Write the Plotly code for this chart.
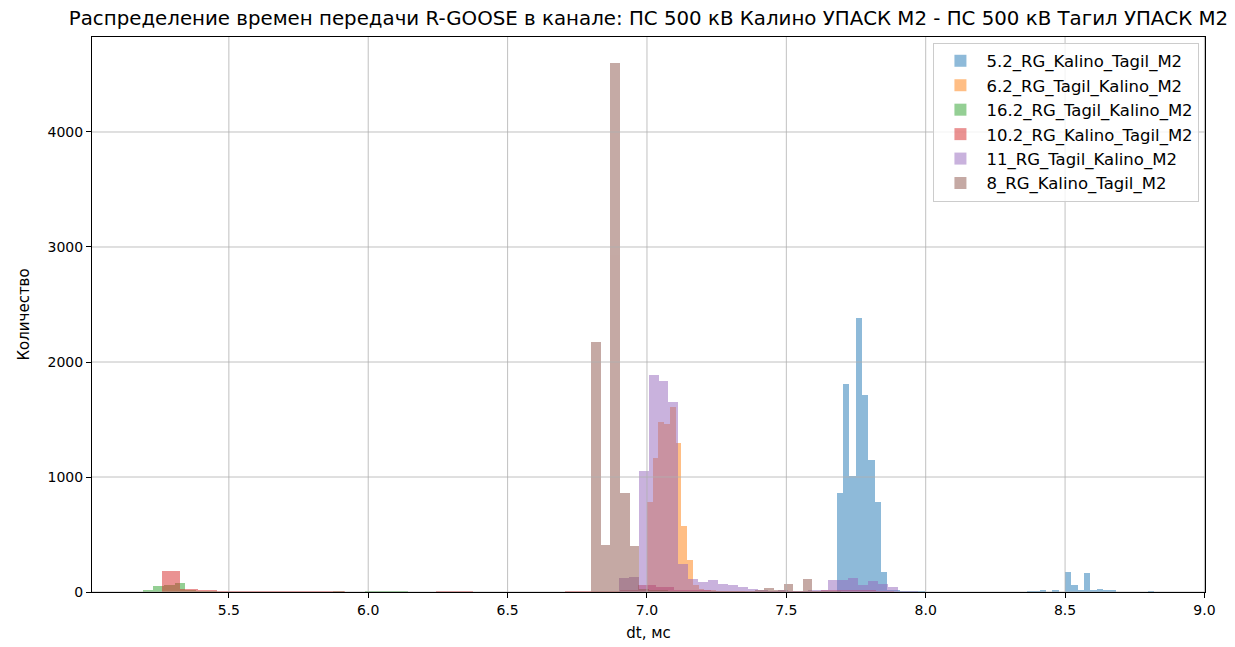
import plotly.graph_objects as go

# ---------------- data (histogram bins) ----------------
names = ["5.2_RG_Kalino_Tagil_M2", "6.2_RG_Tagil_Kalino_M2", "16.2_RG_Tagil_Kalino_M2",
         "10.2_RG_Kalino_Tagil_M2", "11_RG_Tagil_Kalino_M2", "8_RG_Kalino_Tagil_M2"]
colors = ["#1f77b4", "#ff7f0e", "#2ca02c", "#d62728", "#9467bd", "#8c564b"]

# bin start (ms), bin width (ms), counts per bin
s52_start, s52_width = 7.680, 0.02278
s52_counts = [864, 1806, 1009, 2380, 1710, 1145, 783, 177, 15, 12, 8, 8, 5, 3, 0, 0,
              0, 0, 0, 0, 0, 0, 0, 0, 0, 0, 0, 0, 0, 0, 5, 8, 12, 0, 10, 0,
              177, 61, 14, 165, 17, 29, 9, 9, 0, 0, 0, 0, 0, 8]

s62_start, s62_width = 7.000, 0.0206
s62_counts = [784, 1167, 1482, 1463, 1610, 1296, 573, 274, 60, 30, 20, 12, 8, 5, 5, 3, 3]

s162_start, s162_width = 5.191, 0.0380
s162_counts = [12, 55, 58, 78, 10, 5, 3, 0, 0, 0, 0, 0, 0, 0, 0, 0, 0, 0, 3, 0, 0,
               4, 4, 4, 4]

s102_start, s102_width = 5.259, 0.0657
s102_counts = [180, 29, 14, 5, 3, 3, 3, 3, 3, 3, 0, 0, 0, 0, 0, 3, 3, 0, 0, 0, 0, 0,
               3, 3, 8, 15, 63, 40, 20, 10, 5, 3, 3, 3, 5, 8, 12, 15, 10, 5]

s11_start, s11_width = 6.898, 0.03584
s11_counts = [125, 130, 1052, 1890, 1838, 1655, 245, 112, 86, 101, 69, 58, 43, 29, 10,
              8, 10, 8, 8, 10, 15, 104, 104, 122, 58, 100, 67, 46, 8, 5]

s8_start, s8_width = 6.800, 0.0345
s8_counts = [2174, 412, 4598, 857, 396, 25, 15, 10, 8, 5, 5, 5, 5, 3, 3, 3, 5, 20, 32,
             10, 72, 8, 116, 5, 5, 3]

series = [
    (s52_start, s52_width, s52_counts),
    (s62_start, s62_width, s62_counts),
    (s162_start, s162_width, s162_counts),
    (s102_start, s102_width, s102_counts),
    (s11_start, s11_width, s11_counts),
    (s8_start, s8_width, s8_counts),
]

x_ticks = [5.5, 6.0, 6.5, 7.0, 7.5, 8.0, 8.5, 9.0]
y_ticks = [0, 1000, 2000, 3000, 4000]
x_range = [5.009, 9.002]
y_range = [0, 4826]

title = "Распределение времен передачи R-GOOSE в канале: ПС 500 кВ Калино УПАСК М2 - ПС 500 кВ Тагил УПАСК М2"

# ---------------- figure ----------------
fig = go.Figure()
for i, (start, width, counts) in enumerate(series):
    lefts = [start + k * width for k in range(len(counts))]
    fig.add_trace(go.Bar(
        x=lefts, y=counts, width=[width] * len(counts), offset=0,
        name=names[i], legendgroup=names[i], opacity=0.5,
        marker=dict(color=colors[i], line=dict(width=0)),
    ))

font = "DejaVu Sans, Liberation Sans, sans-serif"

shapes = []
for xv in x_ticks:
    shapes.append(dict(type="line", xref="x", yref="paper", x0=xv, x1=xv, y0=0, y1=1,
                       line=dict(color="#b0b0b0", width=0.8), layer="above"))
for yv in y_ticks:
    shapes.append(dict(type="line", xref="paper", yref="y", x0=0, x1=1, y0=yv, y1=yv,
                       line=dict(color="#b0b0b0", width=0.8), layer="above"))

# the page body has an 8px margin, so the figure is 8px smaller and shifted
W, H = 1227, 639
fig.update_layout(
    width=W, height=H,
    barmode="overlay", bargap=0,
    plot_bgcolor="white", paper_bgcolor="white",
    margin=dict(l=84, r=30, t=29, b=55, autoexpand=False),
    font=dict(family=font, size=14, color="black"),
    title=dict(text=title, x=0.5, xref="paper", xanchor="center",
               y=1 - 10 / H, yref="container", yanchor="middle",
               font=dict(family=font, size=19.8, color="black")),
    shapes=shapes,
    legend=dict(x=0.995, y=0.99, xanchor="right", yanchor="top",
                bgcolor="rgba(255,255,255,0.8)", bordercolor="#cccccc", borderwidth=1,
                font=dict(family=font, size=16.5), tracegroupgap=0,
                itemwidth=42),
    showlegend=True,
)
fig.update_xaxes(
    range=x_range, tickvals=x_ticks, ticktext=[f"{v:.1f}" for v in x_ticks],
    showgrid=False, zeroline=False, showline=True, mirror=True, linecolor="black",
    linewidth=1, ticks="outside", ticklen=5, tickcolor="black",
    tickfont=dict(family=font, size=14),
    title=dict(text="dt, мс", font=dict(family=font, size=15), standoff=10),
)
fig.update_yaxes(
    range=y_range, tickvals=y_ticks, ticktext=[str(v) for v in y_ticks],
    showgrid=False, zeroline=False, showline=True, mirror=True, linecolor="black",
    linewidth=1, ticks="outside", ticklen=5, tickcolor="black",
    tickfont=dict(family=font, size=14),
    title=dict(text="Количество", font=dict(family=font, size=15), standoff=14),
)

fig.write_html("out.html")
